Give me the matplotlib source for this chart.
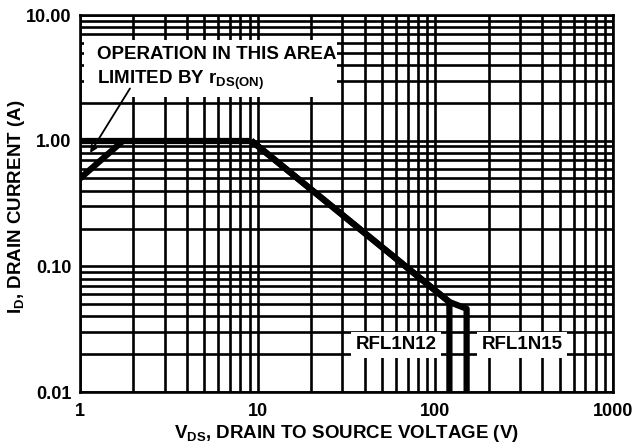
import matplotlib
matplotlib.use("Agg")
import matplotlib.pyplot as plt
from matplotlib.patches import Rectangle
from matplotlib.ticker import FixedLocator, LogLocator, NullFormatter

plt.rcParams['font.family'] = ['Liberation Sans', 'DejaVu Sans']
plt.rcParams['font.weight'] = 'bold'
plt.rcParams['mathtext.fontset'] = 'custom'
plt.rcParams['mathtext.rm'] = 'Liberation Sans:bold'
plt.rcParams['mathtext.it'] = 'Liberation Sans:bold'
plt.rcParams['mathtext.bf'] = 'Liberation Sans:bold'

# Safe operating area data
v_rds = [1.0, 1.75]
i_rds = [0.5, 1.0]
v_flat = [1.0, 9.2]
i_flat = [1.0, 1.0]
v_n12 = [9.2, 120.0, 120.0]
i_n12 = [1.0, 0.052, 0.01]
v_n15 = [9.2, 120.0, 150.0, 150.0]
i_n15 = [1.0, 0.052, 0.046, 0.01]

x_ticks = [1, 10, 100, 1000]
x_labels = ["1", "10", "100", "1000"]
y_ticks = [0.01, 0.1, 1, 10]
y_labels = ["0.01", "0.10", "1.00", "10.00"]

fig = plt.figure(figsize=(6.33, 4.48), dpi=100)
ax = fig.add_axes([80 / 633, 1 - 392 / 448, 533 / 633, 377 / 448])

ax.set_xscale("log")
ax.set_yscale("log")
ax.set_xlim(1, 1000)
ax.set_ylim(0.01, 10)

ax.xaxis.set_major_locator(FixedLocator(x_ticks))
ax.yaxis.set_major_locator(FixedLocator(y_ticks))
ax.xaxis.set_minor_locator(LogLocator(base=10, subs=range(2, 10)))
ax.yaxis.set_minor_locator(LogLocator(base=10, subs=range(2, 10)))
ax.xaxis.set_minor_formatter(NullFormatter())
ax.yaxis.set_minor_formatter(NullFormatter())
ax.set_xticklabels(x_labels, fontsize=13, fontweight="bold")
ax.set_yticklabels(y_labels, fontsize=13, fontweight="bold")
ax.tick_params(which="both", length=0)
ax.tick_params(axis="x", pad=8)
ax.tick_params(axis="y", pad=6)

ax.grid(True, which="both", color="black", linewidth=1.9)
for s in ax.spines.values():
    s.set_linewidth(1.9)

lw = 4.5
ax.plot(v_rds, i_rds, color="black", lw=lw, solid_capstyle="butt", zorder=5)
ax.plot(v_flat, i_flat, color="black", lw=lw, solid_capstyle="butt", zorder=5)
ax.plot(v_n12, i_n12, color="black", lw=lw, solid_capstyle="butt", zorder=5)
ax.plot(v_n15, i_n15, color="black", lw=lw, solid_capstyle="butt", zorder=5)

# white area behind the note
ax.add_patch(Rectangle((0.0075, 0.7825), 0.4745, 0.1515, transform=ax.transAxes,
                       facecolor="white", edgecolor="none", zorder=3))
ax.text(1.247, 3.7, "OPERATION IN THIS AREA\nLIMITED BY r$_{\\mathrm{DS(ON)}}$",
        fontsize=13.5, fontweight="bold", ha="left", va="center",
        linespacing=1.4, zorder=4)
ax.annotate("", xy=(1.14, 0.80), xytext=(1.91, 2.6),
            arrowprops=dict(arrowstyle="-|>", color="black", lw=1.3,
                            mutation_scale=10, shrinkA=0, shrinkB=0),
            zorder=6)

box = dict(facecolor="white", edgecolor="none", pad=3)
ax.text(60, 0.0237, "RFL1N12", fontsize=13.5, fontweight="bold",
        ha="center", va="center", bbox=box, zorder=4)
ax.text(307, 0.0237, "RFL1N15", fontsize=13.5, fontweight="bold",
        ha="center", va="center", bbox=box, zorder=4)

ax.set_xlabel("V$_{\\mathrm{DS}}$, DRAIN TO SOURCE VOLTAGE (V)", fontsize=13.5, fontweight="bold")
ax.set_ylabel("I$_{\\mathrm{D}}$, DRAIN CURRENT (A)", fontsize=13.5, fontweight="bold")
ax.xaxis.set_label_coords(0.5, -0.082)
ax.yaxis.set_label_coords(-0.1, 0.49)

fig.savefig("out.png", dpi=100)
